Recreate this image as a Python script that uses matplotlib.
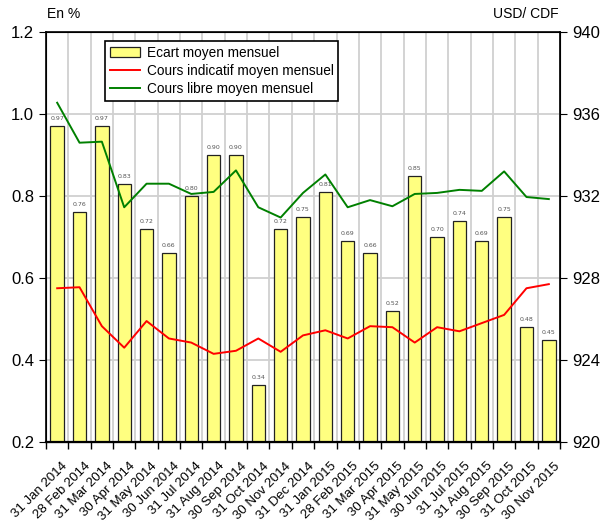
import numpy as np
import matplotlib
matplotlib.use("Agg")
import matplotlib.pyplot as plt
from matplotlib import font_manager

# famille etroite si dispo (comme Arial Narrow de l'original)
noms = {f.name for f in font_manager.fontManager.ttflist}
police = "Liberation Sans Narrow" if "Liberation Sans Narrow" in noms else "Liberation Sans"
plt.rcParams["font.family"] = [police, "DejaVu Sans"]

mois = ["31 Jan 2014", "28 Feb 2014", "31 Mar 2014", "30 Apr 2014", "31 May 2014",
        "30 Jun 2014", "31 Jul 2014", "31 Aug 2014", "30 Sep 2014", "31 Oct 2014",
        "30 Nov 2014", "31 Dec 2014", "31 Jan 2015", "28 Feb 2015", "31 Mar 2015",
        "30 Apr 2015", "31 May 2015", "30 Jun 2015", "31 Jul 2015", "31 Aug 2015",
        "30 Sep 2015", "31 Oct 2015", "30 Nov 2015"]
ecart = [0.97, 0.76, 0.97, 0.83, 0.72, 0.66, 0.80, 0.90, 0.90, 0.34, 0.72, 0.75,
         0.81, 0.69, 0.66, 0.52, 0.85, 0.70, 0.74, 0.69, 0.75, 0.48, 0.45]
cours_indicatif = [927.5, 927.55, 925.65, 924.6, 925.9, 925.05, 924.85, 924.3, 924.45,
                   925.05, 924.4, 925.2, 925.45, 925.05, 925.65, 925.6, 924.85, 925.6,
                   925.4, 925.8, 926.2, 927.5, 927.7]
cours_libre = [936.55, 934.6, 934.65, 931.45, 932.6, 932.6, 932.1, 932.2, 933.25,
               931.45, 930.95, 932.15, 933.05, 931.45, 931.8, 931.5, 932.1, 932.15,
               932.3, 932.25, 933.2, 931.95, 931.85]

n = len(mois)
x = np.arange(n)

fig = plt.figure(figsize=(6.03, 5.32), dpi=100)
ax = fig.add_axes([46 / 603, 1 - 442 / 532, 514 / 603, 410 / 532])
ax2 = ax.twinx()

ax.bar(x, ecart, width=0.6, color="#ffff80", edgecolor="#222222", linewidth=0.9,
       zorder=2, label="Ecart moyen mensuel")
for xi, v in zip(x, ecart):
    ax.text(xi, v + 0.012, f"{v:.2f}", ha="center", va="bottom", fontsize=4.5,
            color="#555555", family="DejaVu Sans", zorder=3)

l1, = ax2.plot(x, cours_indicatif, color="red", lw=1.4, label="Cours indicatif moyen mensuel")
l2, = ax2.plot(x, cours_libre, color="green", lw=1.4, label="Cours libre moyen mensuel")

ax.set_xlim(-0.5, n - 0.5)
ax.set_ylim(0.2, 1.2)
ax2.set_ylim(920, 940)
ax.set_yticks(np.arange(0.2, 1.21, 0.2))
ax.set_yticklabels([f"{v:.1f}" for v in np.arange(0.2, 1.21, 0.2)])
ax2.set_yticks(np.arange(920, 941, 4))

# ticks aux frontieres des categories, etiquettes decalees
ax.set_xticks(np.arange(-0.5, n, 1.0))
ax.set_xticklabels([])
ax.set_xticks(x + 0.2, minor=True)
ax.set_xticklabels(mois, minor=True, rotation=45, ha="right", rotation_mode="anchor",
                   fontsize=9.5)
ax.tick_params(axis="x", which="minor", length=0, pad=13)
ax.tick_params(axis="x", which="major", length=5, width=1, direction="out")
ax.tick_params(axis="y", length=5, labelsize=12, direction="out")
ax2.tick_params(axis="y", length=5, labelsize=12, direction="out")

ax.grid(True, which="major", color="#d0d0d0", lw=1.3, zorder=0)
ax.set_axisbelow(True)
for s in ax.spines.values():
    s.set_linewidth(1.2)
ax.spines["bottom"].set_linewidth(1.6)

leg = ax.legend([ax.patches[0], l1, l2],
                ["Ecart moyen mensuel", "Cours indicatif moyen mensuel",
                 "Cours libre moyen mensuel"],
                loc="upper left", bbox_to_anchor=(0.115, 0.978), fontsize=9.8,
                frameon=True, fancybox=False, edgecolor="black", framealpha=1,
                borderaxespad=0, borderpad=0.35, labelspacing=0.3,
                handlelength=2.2, handletextpad=0.5)
leg.get_frame().set_linewidth(1.2)
leg.set_zorder(5)

fig.text(47 / 603, 1 - 14 / 532, "En %", fontsize=10, va="center", ha="left")
fig.text(559 / 603, 1 - 14 / 532, "USD/ CDF", fontsize=10, va="center", ha="right")

fig.savefig("out.png", dpi=100)
